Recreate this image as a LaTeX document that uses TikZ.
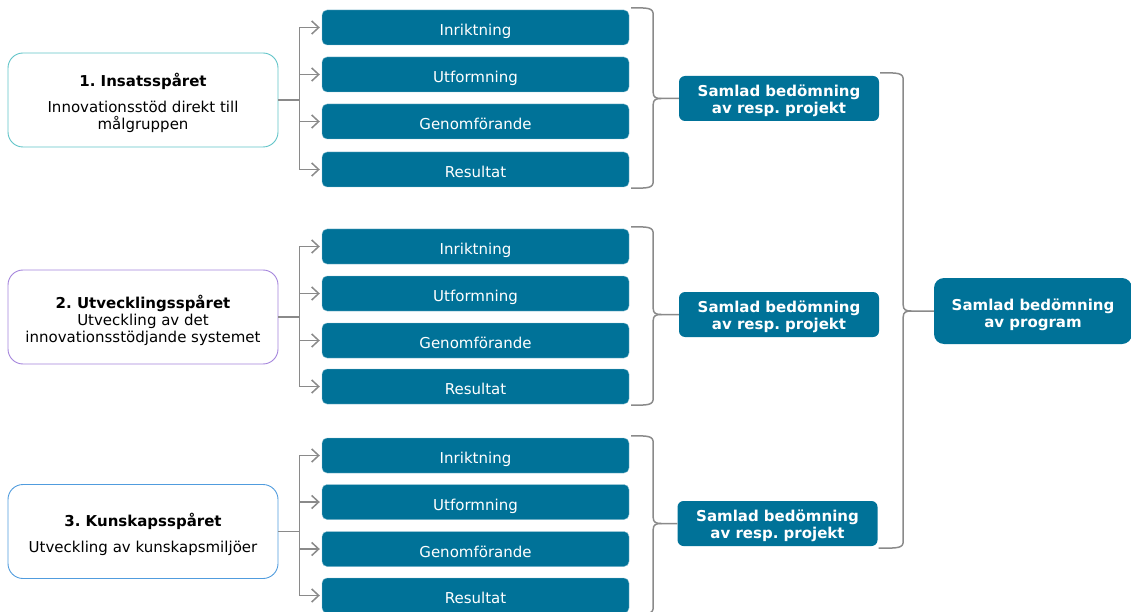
\documentclass[tikz,border=0pt]{standalone}
\usepackage{fontspec}
\setmainfont{DejaVu Sans}
\usetikzlibrary{calc,arrows.meta}
\definecolor{boxblue}{RGB}{0,114,152}
\definecolor{connGray}{RGB}{138,138,138}
\definecolor{tealedge}{RGB}{96,196,200}
\definecolor{purpleedge}{RGB}{164,132,220}
\definecolor{skyedge}{RGB}{80,156,222}

% right-pointing curly brace: top end, bottom end, tip on the spine, target node
\newcommand\trackbrace[4]{%
  \draw[conn] (#1) .. controls ($(#1 -| #3)+(-5,0)$) and ($(#1 -| #3)$) .. ($(#1 -| #3)+(0,7)$)
     -- ($(#3)+(0,-6)$) .. controls ($(#3)+(0,-1)$) and ($(#3)+(3,0)$) .. ($(#3)+(8,0)$) -- (#4.west);
  \draw[conn] (#2) .. controls ($(#2 -| #3)+(-5,0)$) and ($(#2 -| #3)$) .. ($(#2 -| #3)+(0,-7)$)
     -- ($(#3)+(0,6)$) .. controls ($(#3)+(0,1)$) and ($(#3)+(3,0)$) .. ($(#3)+(8,0)$);
}

\begin{document}
\frenchspacing
\begin{tikzpicture}[x=1pt,y=-1pt,
  track/.style={draw=#1, line width=0.9pt, rounded corners=15pt, fill=white,
    minimum width=270pt, minimum height=94pt, inner sep=0pt},
  tracktext/.style={align=center, inner sep=0pt, font=\fontsize{15}{17}\selectfont},
  part/.style={fill=boxblue, draw=boxblue!45!white, line width=0.4pt, rounded corners=5pt,
    minimum width=307pt, minimum height=35pt, text=white, inner sep=0pt,
    text height=16pt, text depth=0pt, font=\fontsize{15}{17}\selectfont},
  summary/.style={fill=boxblue, rounded corners=6pt, minimum width=200pt, minimum height=45pt,
    inner sep=0pt},
  sumtext/.style={text=white, align=center, inner sep=0pt,
    font=\bfseries\fontsize{15}{17}\selectfont},
  conn/.style={draw=connGray, line width=1.5pt},
  arr/.style={conn, -{Straight Barb[length=7pt,width=13pt]}, shorten >=2pt},
]
\useasboundingbox (0,0) rectangle (1131,612);

% the three tracks
\node[track=tealedge]   (L1) at (143,100)   {};
\node[track=purpleedge] (L2) at (143,317)   {};
\node[track=skyedge]    (L3) at (143,531.5) {};
\node[tracktext] (L1t) at ($(L1)+(0,3)$) {\textbf{1. Insatsspåret}\\[9pt]Innovationsstöd direkt till\\målgruppen};
\node[tracktext] (L2t) at ($(L2)+(0,3)$) {\textbf{2. Utvecklingsspåret}\\Utveckling av det\\innovationsstödjande systemet};
\node[tracktext] (L3t) at ($(L3)+(0,3)$) {\textbf{3. Kunskapsspåret}\\[9pt]Utveckling av kunskapsmiljöer};

% assessment criteria per track
\node[part] (b11) at (475.5,27.5)  {Inriktning};
\node[part] (b12) at (475.5,74.5)  {Utformning};
\node[part] (b13) at (475.5,121.5) {Genomförande};
\node[part] (b14) at (475.5,169.5) {Resultat};

\node[part] (b21) at (475.5,246.5) {Inriktning};
\node[part] (b22) at (475.5,293.5) {Utformning};
\node[part] (b23) at (475.5,340.5) {Genomförande};
\node[part] (b24) at (475.5,386.5) {Resultat};

\node[part] (b31) at (475.5,455.5) {Inriktning};
\node[part] (b32) at (475.5,502)   {Utformning};
\node[part] (b33) at (475.5,549)   {Genomförande};
\node[part] (b34) at (475.5,595.5) {Resultat};

% overall assessments
\node[summary] (sp1) at (779,98.5)    {};
\node[summary] (sp2) at (779,314.5)   {};
\node[summary] (sp3) at (777.5,523.5) {};
\node[summary, minimum width=198pt, minimum height=66pt, rounded corners=10pt] (prog) at (1033,311) {};
\node[sumtext] (sp1t) at ($(sp1)+(0,2)$)  {Samlad bedömning\\av resp. projekt};
\node[sumtext] (sp2t) at ($(sp2)+(0,2)$)  {Samlad bedömning\\av resp. projekt};
\node[sumtext] (sp3t) at ($(sp3)+(0,2)$)  {Samlad bedömning\\av resp. projekt};
\node[sumtext] (progt) at ($(prog)+(0,4)$) {Samlad bedömning\\av program};

% fan-out from each track to its criteria
\foreach \g in {1,2,3} {
  \coordinate (j\g) at ($(L\g.east)+(21,0)$);
  \draw[conn] (L\g.east) -- (j\g);
  \draw[conn] (j\g |- b\g1.west) -- (j\g |- b\g4.west);
  \foreach \k in {1,2,3,4}
    \draw[arr] (j\g |- b\g\k.west) -- (b\g\k.west);
}

% braces gathering the criteria
\foreach \g/\s in {1/sp1,2/sp2,3/sp3} {
  \coordinate (t\g) at ($(b\g1.north east)+(2,-2)$);
  \coordinate (e\g) at ($(b\g4.south east)+(2,1)$);
  \coordinate (x\g) at ($(b\g1.east)+(24,0)$);
  \coordinate (k\g) at (x\g |- \s.west);
  \trackbrace{t\g}{e\g}{k\g}{\s}
}

% brace gathering the project assessments
\coordinate (t0) at ($(sp1.north east)+(1,-3)$);
\coordinate (e0) at ($(sp3.south east)+(1,2)$);
\coordinate (x0) at ($(sp1.east)+(24,0)$);
\coordinate (k0) at (x0 |- prog.west);
\trackbrace{t0}{e0}{k0}{prog}
\end{tikzpicture}
\end{document}
